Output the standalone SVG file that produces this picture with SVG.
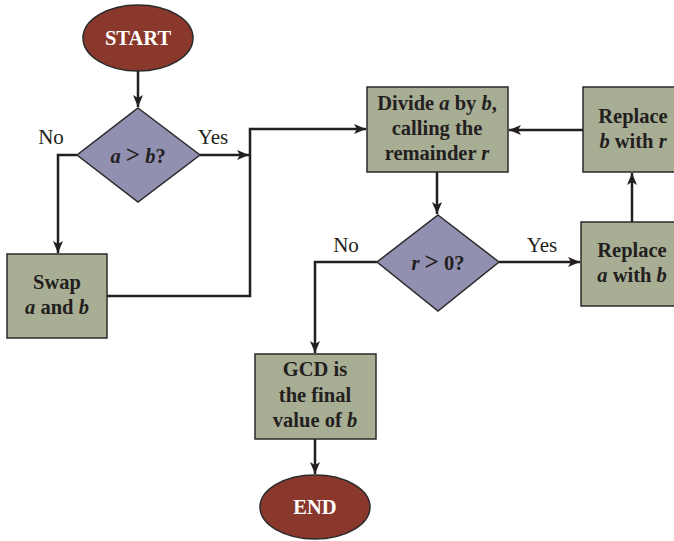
<svg xmlns="http://www.w3.org/2000/svg" width="674" height="541" viewBox="0 0 674 541">
<style>
.term{fill:#8a372c;stroke:#2a2a2a;stroke-width:1.5}
.dec{fill:#9290b0;stroke:#2a2a2a;stroke-width:1.5}
.proc{fill:#a8ae94;stroke:#2a2a2a;stroke-width:1.5}
.t{font-family:"Liberation Serif","Times New Roman",serif;font-weight:bold;font-size:20.5px;fill:#231f20;text-anchor:middle}
.tw{font-family:"Liberation Serif","Times New Roman",serif;font-weight:bold;font-size:20.5px;fill:#ffffff;text-anchor:middle}
.lbl{font-family:"Liberation Serif","Times New Roman",serif;font-size:21px;fill:#231f20;text-anchor:middle}
.gt{font-size:25px}
.c{fill:none;stroke:#231f20;stroke-width:2.5}
</style>
<defs>
<marker id="arr" viewBox="0 0 12 10" refX="12" refY="5" markerWidth="12" markerHeight="10" markerUnits="userSpaceOnUse" orient="auto">
<path d="M0,0 L12,5 L0,10 L3,5 Z" fill="#231f20"/>
</marker>
</defs>
<g id="connectors">
<path class="c" d="M138,71 V107" marker-end="url(#arr)"/>
<path class="c" d="M77,155 H58 V253" marker-end="url(#arr)"/>
<path class="c" d="M200,155 H249" marker-end="url(#arr)"/>
<path class="c" d="M107,296 H250 V129 H366" marker-end="url(#arr)"/>
<path class="c" d="M437,172 V214" marker-end="url(#arr)"/>
<path class="c" d="M583,130 H509" marker-end="url(#arr)"/>
<path class="c" d="M499,262 H580" marker-end="url(#arr)"/>
<path class="c" d="M632,222 V173" marker-end="url(#arr)"/>
<path class="c" d="M377,262 H315 V353" marker-end="url(#arr)"/>
<path class="c" d="M315,439 V474" marker-end="url(#arr)"/>
<text class="lbl" x="51" y="144">No</text>
<text class="lbl" x="213" y="144">Yes</text>
<text class="lbl" x="346" y="252">No</text>
<text class="lbl" x="542" y="252">Yes</text>
</g>
<g id="start">
<ellipse class="term" cx="138" cy="38" rx="55" ry="33"/>
<text class="tw" x="138" y="45">START</text>
</g>
<g id="cmp-ab">
<polygon class="dec" points="138,108 200,155 138,202 77,155"/>
<text class="t" x="138" y="163"><tspan font-style="italic">a</tspan> <tspan class="gt">&gt;</tspan> <tspan font-style="italic">b</tspan>?</text>
</g>
<g id="swap">
<rect class="proc" x="7" y="254" width="100" height="84"/>
<text class="t" x="57" y="289">Swap</text>
<text class="t" x="57" y="314"><tspan font-style="italic">a</tspan> and <tspan font-style="italic">b</tspan></text>
</g>
<g id="divide">
<rect class="proc" x="367" y="87" width="141" height="85"/>
<text class="t" x="437" y="110">Divide <tspan font-style="italic">a</tspan> by <tspan font-style="italic">b</tspan>,</text>
<text class="t" x="437" y="135">calling the</text>
<text class="t" x="437" y="160">remainder <tspan font-style="italic">r</tspan></text>
</g>
<g id="replace-b">
<rect class="proc" x="583" y="87" width="100" height="85"/>
<text class="t" x="633" y="123">Replace</text>
<text class="t" x="633" y="148"><tspan font-style="italic">b</tspan> with <tspan font-style="italic">r</tspan></text>
</g>
<g id="cmp-r">
<polygon class="dec" points="438,215 499,262 438,311 377,262"/>
<text class="t" x="438" y="270"><tspan font-style="italic">r</tspan> <tspan class="gt">&gt;</tspan> 0?</text>
</g>
<g id="replace-a">
<rect class="proc" x="581" y="222" width="100" height="84"/>
<text class="t" x="632" y="257">Replace</text>
<text class="t" x="632" y="282"><tspan font-style="italic">a</tspan> with <tspan font-style="italic">b</tspan></text>
</g>
<g id="gcd">
<rect class="proc" x="255" y="354" width="121" height="85"/>
<text class="t" x="315" y="376">GCD is</text>
<text class="t" x="315" y="402">the final</text>
<text class="t" x="315" y="427">value of <tspan font-style="italic">b</tspan></text>
</g>
<g id="end">
<ellipse class="term" cx="315" cy="507" rx="55" ry="32"/>
<text class="tw" x="315" y="514">END</text>
</g>
</svg>
